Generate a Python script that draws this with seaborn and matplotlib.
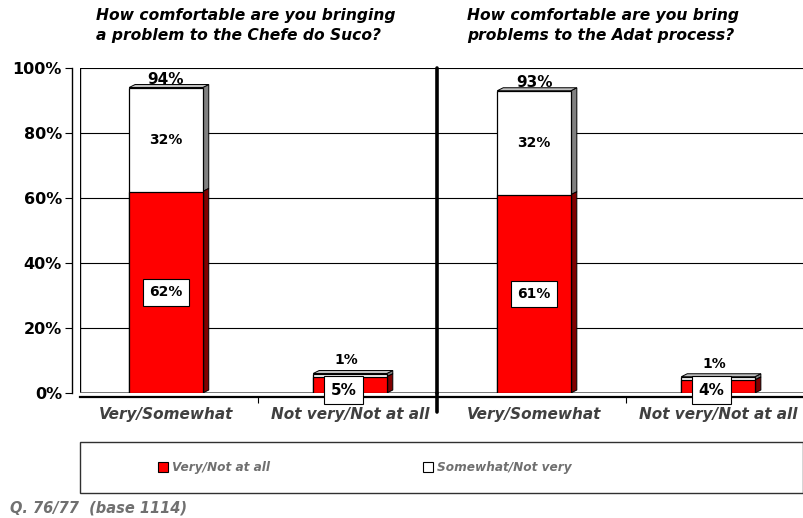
import matplotlib
matplotlib.use("Agg")
import matplotlib.pyplot as plt
from matplotlib.patches import Polygon, Rectangle
from matplotlib.lines import Line2D
import seaborn as sns
import pandas as pd

sns.set_theme(style="white")
plt.rcParams["font.family"] = ["DejaVu Sans"]
plt.rcParams["text.color"] = "black"
plt.rcParams["ytick.labelcolor"] = "black"

# ---- data ----
questions = [
    "How comfortable are you bringing\na problem to the Chefe do Suco?",
    "How comfortable are you bring\nproblems to the Adat process?",
]
groups = ["Very/Somewhat", "Not very/Not at all"]
strong_pct = [62, 5, 61, 4]      # Very / Not at all (red)
mild_pct = [32, 1, 32, 1]        # Somewhat / Not very (white)
series_names = ["Very/Not at all", "Somewhat/Not very"]
y_ticks = [0, 20, 40, 60, 80, 100]
footnote = "Q. 76/77  (base 1114)"

keys = [f"{q}|{g}" for q in range(len(questions)) for g in groups]
tick_labels = [g for _ in questions for g in groups]
totals = [a + b for a, b in zip(strong_pct, mild_pct)]

df = pd.DataFrame({"key": keys, "strong": strong_pct, "total": totals})

RED = "#ff0000"
DARK_RED = "#800000"
GREY_SIDE = "#808080"
GREY_TOP = "#c0c0c0"
LABEL_GREY = "#404040"
NOTE_GREY = "#707070"

fig = plt.figure(figsize=(8.04, 5.18), dpi=100)
W, H = 804, 518
ax = fig.add_axes([80 / W, 1 - 393 / H, (804 - 80) / W, (393 - 68) / H])

# stacked bars: full height in white, the red part drawn over it
sns.barplot(data=df, x="key", y="total", order=keys, color="white",
            edgecolor="black", linewidth=0.9, width=0.40, ax=ax,
            saturation=1, zorder=3)
sns.barplot(data=df, x="key", y="strong", order=keys, color=RED,
            edgecolor="black", linewidth=0.9, width=0.40, ax=ax,
            saturation=1, zorder=3)

ax.set_xlim(-0.467, 3.467)
ax.set_ylim(0, 100)

# depth of the 3-D extrusion, in data units (about 6 px right, 3 px up)
px_x = (ax.get_xlim()[1] - ax.get_xlim()[0]) / (804 - 80)
px_y = 100 / (393 - 68)
dx, dy = 6 * px_x, 3 * px_y

bars = list(ax.patches)
n = len(keys)
white_bars, red_bars = bars[:n], bars[n:]
for wb, rb in zip(white_bars, red_bars):
    x0 = wb.get_x()
    w = wb.get_width()
    top = wb.get_height()
    rtop = rb.get_height()
    # side of the white block
    ax.add_patch(Polygon([(x0 + w, rtop), (x0 + w + dx, rtop + dy),
                          (x0 + w + dx, top + dy), (x0 + w, top)],
                         closed=True, facecolor=GREY_SIDE, edgecolor="black",
                         linewidth=0.7, zorder=2.9))
    # side of the red block
    ax.add_patch(Polygon([(x0 + w, 0), (x0 + w + dx, dy),
                          (x0 + w + dx, rtop + dy), (x0 + w, rtop)],
                         closed=True, facecolor=DARK_RED, edgecolor="black",
                         linewidth=0.7, zorder=2.9))
    # top face
    ax.add_patch(Polygon([(x0, top), (x0 + dx, top + dy),
                          (x0 + w + dx, top + dy), (x0 + w, top)],
                         closed=True, facecolor=GREY_TOP, edgecolor="black",
                         linewidth=0.7, zorder=2.9))

# value labels
for i, (rb, wb) in enumerate(zip(red_bars, white_bars)):
    cx = rb.get_x() + rb.get_width() / 2
    s, m, t = strong_pct[i], mild_pct[i], totals[i]
    box = dict(boxstyle="square,pad=0.45", facecolor="white",
               edgecolor="black", linewidth=0.8)
    if s > 20:
        ax.text(cx, t + 2.6, f"{t}%", ha="center", va="center",
                fontsize=11, fontweight="bold", zorder=5)
        ax.text(cx, s + m / 2, f"{m}%", ha="center", va="center",
                fontsize=10, fontweight="bold", zorder=5)
        ax.text(cx, s / 2, f"{s}%", ha="center", va="center",
                fontsize=10, fontweight="bold", bbox=box, zorder=5)
    else:
        ax.text(cx - 0.02, t + 4.0, f"{m}%", ha="center", va="center",
                fontsize=10, fontweight="bold", zorder=5)
        ax.text(cx - 0.035, 0.9, f"{s}%", ha="center", va="center",
                fontsize=11, fontweight="bold", bbox=box, zorder=6,
                clip_on=False)

# grid on the back wall
for v in y_ticks[1:]:
    ax.axhline(v, color="black", linewidth=0.8, zorder=1)

# spines / frame
for side in ["top", "right"]:
    ax.spines[side].set_visible(False)
ax.spines["left"].set_position(("outward", 6))
ax.spines["left"].set_linewidth(1.0)
ax.spines["left"].set_color("black")
ax.spines["bottom"].set_position(("outward", 3))
ax.spines["bottom"].set_linewidth(1.6)
ax.spines["bottom"].set_color("black")

# inner wall edge and floor line
ax.axvline(ax.get_xlim()[0], color="black", linewidth=1.0, zorder=1)
ax.axhline(0, color="#606060", linewidth=1.2, zorder=2)

ax.set_yticks(y_ticks)
ax.set_yticklabels([f"{v}%" for v in y_ticks], fontsize=11.5,
                   fontweight="bold", color="black")
ax.tick_params(axis="y", direction="out", length=5, width=0.8, color="black",
               left=True, pad=2)

ax.set_xticks(range(n))
ax.set_xticklabels(tick_labels, fontsize=11, fontstyle="italic",
                   fontweight="bold", color=LABEL_GREY)
ax.tick_params(axis="x", length=0, pad=7)
ax.set_xticks([0.5, 2.5], minor=True)
ax.tick_params(axis="x", which="minor", direction="out", length=4,
               width=0.8, color="black", bottom=True)
ax.set_xlabel("")
ax.set_ylabel("")

# divider between the two questions
ax.plot([1.475, 1.475], [0, 100], color="black", linewidth=2.6,
        zorder=6, clip_on=False)
ax.add_line(Line2D([1.475, 1.475], [0, -5.9], color="black", linewidth=2.6,
                   zorder=6, clip_on=False))

# question titles
for xpx, q in zip([96, 467], questions):
    fig.text(xpx / W, 1 - 8 / H, q, ha="left", va="top",
             fontsize=11.2, fontweight="bold", fontstyle="italic",
             linespacing=1.45, color="black")

# legend box
fig.patches.append(Rectangle((80 / W, 1 - 493 / H), (803 - 80) / W,
                             (493 - 442) / H, transform=fig.transFigure,
                             facecolor="white", edgecolor="#303030",
                             linewidth=1.0))
for xpx, name, col in [(158, series_names[0], RED),
                       (423, series_names[1], "white")]:
    fig.patches.append(Rectangle((xpx / W, 1 - 472 / H), 10 / W, 10 / H,
                                 transform=fig.transFigure, facecolor=col,
                                 edgecolor="black", linewidth=0.8))
    fig.text((xpx + 14) / W, 1 - 467 / H, name, ha="left", va="center",
             fontsize=8.7, fontstyle="italic", fontweight="bold",
             color=NOTE_GREY)

fig.text(10 / W, 1 - 508 / H, footnote, ha="left", va="center",
         fontsize=10.5, fontstyle="italic", fontweight="bold",
         color=NOTE_GREY)

fig.savefig("out.png", dpi=100)
